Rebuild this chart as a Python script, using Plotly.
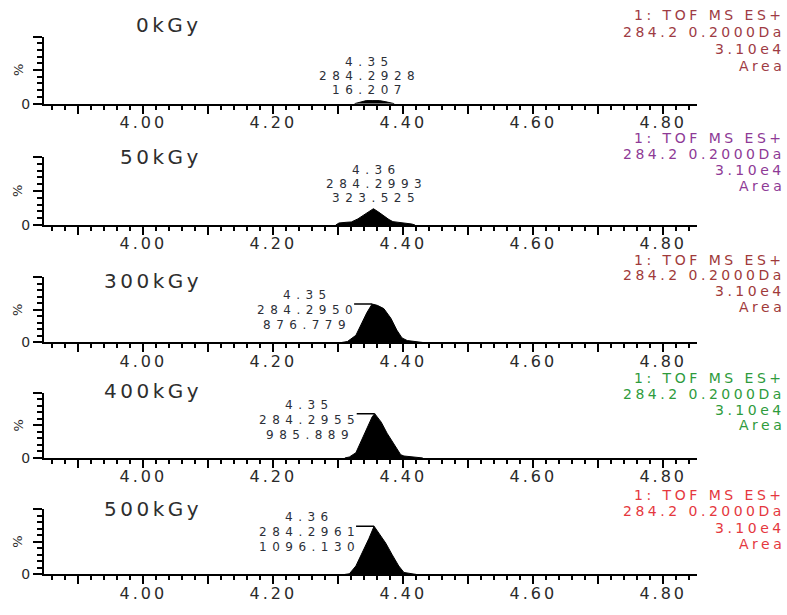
import plotly.graph_objects as go

W, H = 787, 615
FONT = "DejaVu Sans"

# ---- data -------------------------------------------------------------
doses = ["0kGy", "50kGy", "300kGy", "400kGy", "500kGy"]
peak_rt = ["4.35", "4.36", "4.35", "4.35", "4.36"]
peak_mz = ["284.2928", "284.2993", "284.2950", "284.2955", "284.2961"]
peak_area = ["16.207", "323.525", "876.779", "985.889", "1096.130"]
channel_text = ["1: TOF MS ES+", "284.2 0.2000Da", "3.10e4", "Area"]

# extracted-ion chromatograms, intensity in % of 3.10e4
rt_0 = [4.325, 4.332, 4.343, 4.352, 4.363, 4.372, 4.381, 4.386]
int_0 = [0, 2, 4.5, 4.5, 4.5, 3, 1, 0]

rt_50 = [4.296, 4.301, 4.312, 4.320, 4.330, 4.338, 4.346, 4.354, 4.362,
         4.370, 4.378, 4.384, 4.395, 4.404, 4.413, 4.418]
int_50 = [0, 3, 4, 4.5, 9, 14, 19, 24, 19, 13, 8, 5, 4, 2.5, 1.5, 0]

rt_300 = [4.305, 4.314, 4.327, 4.337, 4.344, 4.352, 4.360, 4.370, 4.381,
          4.390, 4.398, 4.406, 4.415, 4.424, 4.430]
int_300 = [0, 1.5, 11, 31, 46, 59, 57, 52, 37, 19, 7, 3, 2, 1.5, 0]

rt_400 = [4.310, 4.317, 4.327, 4.337, 4.344, 4.352, 4.356, 4.366, 4.375,
          4.386, 4.396, 4.401, 4.412, 4.424, 4.430]
int_400 = [0, 1.5, 8, 30, 47, 63, 68, 55, 38, 20, 5, 3, 2, 1.5, 0]

rt_500 = [4.310, 4.317, 4.327, 4.337, 4.347, 4.355, 4.363, 4.373, 4.383,
          4.393, 4.401, 4.410, 4.416, 4.420]
int_500 = [0, 1, 13, 33, 55, 74, 63, 48, 30, 13, 3, 2, 1.5, 0]

rts = [rt_0, rt_50, rt_300, rt_400, rt_500]
ints = [int_0, int_50, int_300, int_400, int_500]

x_major = [3.9, 4.0, 4.1, 4.2, 4.3, 4.4, 4.5, 4.6, 4.7, 4.8]
x_labels = ["", "4.00", "", "4.20", "", "4.40", "", "4.60", "", "4.80"]

# ---- layout constants (pixels) ---------------------------------------
panel_top = [37, 159, 281, 398, 516]
panel_bottom = [105, 228, 347, 464, 582]
title_y = [25, 159, 285, 396, 516]
channel_y = [[15, 32, 50, 67], [140, 156, 172, 188], [263, 279, 295, 311],
             [383, 399, 415, 431], [502, 518, 535, 551]]
channel_color = ["#9E3B44", "#8E3A96", "#A03A3A", "#2E9B3C", "#E5383E"]
x_left, x_right = 44, 697


def spaced(s, ls):
    return f'<span style="letter-spacing:{ls}px">{s}</span>'


def fx(p):
    return p / W


def fy(p):
    return 1 - p / H


fig = go.Figure()
annotations = []
shapes = []

for i in range(5):
    n = i + 1
    xa = "x" if n == 1 else f"x{n}"
    ya = "y" if n == 1 else f"y{n}"

    fig.add_trace(go.Scatter(
        x=rts[i], y=ints[i], xaxis=xa, yaxis=ya, mode="lines",
        fill="tozeroy", fillcolor="black",
        line=dict(color="black", width=1),
        hoverinfo="skip", showlegend=False,
    ))

    fig.update_layout(**{
        f"xaxis{n}": dict(
            domain=[fx(x_left), fx(x_right)], anchor=ya,
            range=[3.847, 4.852], showline=True, linecolor="black",
            linewidth=2, ticks="outside", tickmode="array",
            tickvals=x_major, ticktext=[spaced(t, 3) for t in x_labels],
            ticklen=8, tickwidth=1.5, tickcolor="black",
            ticklabelstandoff=-5,
            tickfont=dict(family=FONT, size=16, color="#2a2a2a"),
            minor=dict(dtick=0.02, tick0=3.9, ticks="outside", ticklen=4,
                       tickwidth=1.5, tickcolor="black"),
            showgrid=False, zeroline=False, fixedrange=True,
        ),
        f"yaxis{n}": dict(
            domain=[fy(panel_bottom[i]), fy(panel_top[i])], anchor=xa,
            range=[0, 100], showline=True, linecolor="black", linewidth=2,
            ticks="outside", tickmode="array", tickvals=[0, 50, 100],
            ticktext=["0", "", ""], ticklen=9, tickwidth=1.5,
            tickcolor="black",
            tickfont=dict(family=FONT, size=14, color="#2a2a2a"),
            minor=dict(dtick=10, ticks="outside", ticklen=5, tickwidth=1.5,
                       tickcolor="black"),
            showgrid=False, zeroline=False, fixedrange=True,
        ),
    })

    # dose title
    annotations.append(dict(
        text=spaced(doses[i], 3.5), xref="paper", yref="paper",
        x=fx(204), y=fy(title_y[i]), xanchor="right", yanchor="middle",
        showarrow=False, font=dict(family=FONT, size=20, color="#2e2e2e"),
    ))

    # "%" on the intensity axis
    annotations.append(dict(
        text="%", xref="paper", yref="paper", x=fx(18),
        y=fy((panel_top[i] + panel_bottom[i]) / 2), xanchor="center",
        yanchor="middle", textangle=-90, showarrow=False,
        font=dict(family=FONT, size=13, color="#2a2a2a"),
    ))

    # channel description on the right
    for line, yy in zip(channel_text, channel_y[i]):
        annotations.append(dict(
            text=spaced(line, 3.5), xref="paper", yref="paper", x=fx(786),
            y=fy(yy), xanchor="right", yanchor="middle", showarrow=False,
            borderpad=0,
            font=dict(family=FONT, size=14, color=channel_color[i]),
        ))

    # peak label at the apex
    k = ints[i].index(max(ints[i]))
    apex_t, apex_v = rts[i][k], ints[i][k]
    if i < 2:
        dx, dys = 0, [39, 25, 11]
    else:
        dx, dys = -68, [9, -6, -21]
        shapes.append(dict(
            type="line", xref=xa, yref=ya, xsizemode="pixel",
            xanchor=apex_t, x0=-18, x1=0, y0=apex_v, y1=apex_v,
            line=dict(color="black", width=1.5),
        ))
    for txt, dy in zip([peak_rt[i], peak_mz[i], peak_area[i]], dys):
        annotations.append(dict(
            text=spaced(txt, 5.5), xref=xa, yref=ya, x=apex_t, y=apex_v,
            xshift=dx + 3, yshift=dy, xanchor="center", yanchor="middle",
            showarrow=False, borderpad=0,
            font=dict(family=FONT, size=12, color="#2b2f38"),
        ))

fig.update_layout(
    width=W, height=H, margin=dict(l=0, r=0, t=0, b=0),
    paper_bgcolor="white", plot_bgcolor="white",
    annotations=annotations, shapes=shapes, showlegend=False,
)

fig.write_html("out.html")
